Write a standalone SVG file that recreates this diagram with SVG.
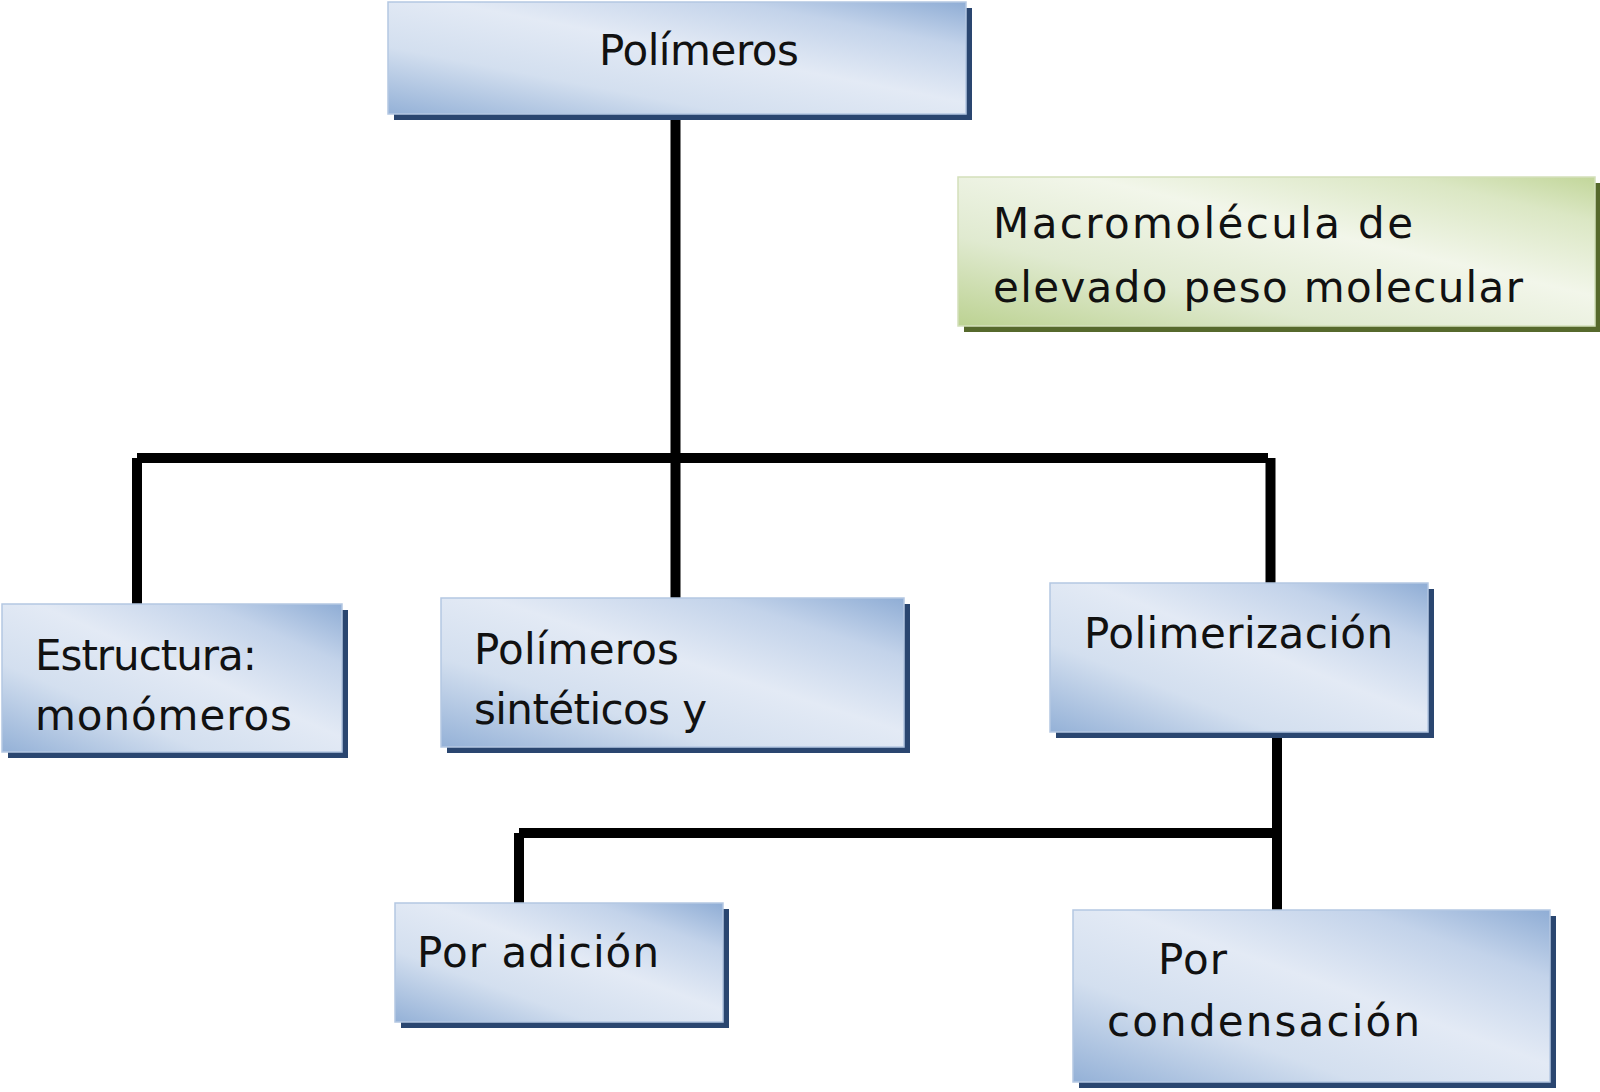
<svg xmlns="http://www.w3.org/2000/svg" width="1600" height="1092" viewBox="0 0 1600 1092">
  <defs>
    <linearGradient id="gBlue" x1="0" y1="1" x2="1" y2="0">
      <stop offset="0" stop-color="#94b1d7"/>
      <stop offset="0.3" stop-color="#d3dfef"/>
      <stop offset="0.55" stop-color="#e3eaf5"/>
      <stop offset="0.8" stop-color="#c3d3ea"/>
      <stop offset="1" stop-color="#8fadd5"/>
    </linearGradient>
    <linearGradient id="gGreen" x1="0" y1="1" x2="1" y2="0">
      <stop offset="0" stop-color="#bcd292"/>
      <stop offset="0.3" stop-color="#e0ead0"/>
      <stop offset="0.6" stop-color="#f2f6ea"/>
      <stop offset="0.85" stop-color="#dbe7c4"/>
      <stop offset="1" stop-color="#c2d69a"/>
    </linearGradient>
  </defs>
  <style>
    .shB { fill: #2a4670; }
    .shG { fill: #56692c; }
    .boxB { fill: url(#gBlue); stroke: #b4c7e2; stroke-width: 1.5; }
    .boxG { fill: url(#gGreen); stroke: #d3e0bb; stroke-width: 1.5; }
    .t { font-family: "DejaVu Sans", "Liberation Sans", sans-serif; font-size: 42px; fill: #111111; }
    .c { stroke: #000000; stroke-width: 10; fill: none; stroke-linecap: butt; }
  </style>
  <rect width="1600" height="1092" fill="#ffffff"/>

  <g id="connectors">
    <line class="c" x1="675.5" y1="114" x2="675.5" y2="599"/>
    <line class="c" x1="137" y1="458" x2="1268" y2="458"/>
    <line class="c" x1="137" y1="458" x2="137" y2="605"/>
    <line class="c" x1="1270.5" y1="458" x2="1270.5" y2="584"/>
    <line class="c" x1="1277" y1="732" x2="1277" y2="911"/>
    <line class="c" x1="519" y1="833" x2="1272" y2="833"/>
    <line class="c" x1="519" y1="833" x2="519" y2="904"/>
  </g>

  <g id="node-polimeros">
    <rect class="shB" x="394" y="8" width="578" height="112"/>
    <rect class="boxB" x="388" y="2" width="578" height="112"/>
    <text class="t" x="599" y="65" textLength="200">Polímeros</text>
  </g>

  <g id="node-macromolecula">
    <rect class="shG" x="964" y="183" width="637" height="149"/>
    <rect class="boxG" x="958" y="177" width="637" height="149"/>
    <text class="t" x="993" y="238" textLength="420">Macromolécula de</text>
    <text class="t" x="993" y="302" textLength="530">elevado peso molecular</text>
  </g>

  <g id="node-estructura">
    <rect class="shB" x="8" y="610" width="340" height="148"/>
    <rect class="boxB" x="2" y="604" width="340" height="148"/>
    <text class="t" x="35" y="670" textLength="222">Estructura:</text>
    <text class="t" x="35" y="730" textLength="257">monómeros</text>
  </g>

  <g id="node-sinteticos">
    <rect class="shB" x="447" y="604" width="463" height="149"/>
    <rect class="boxB" x="441" y="598" width="463" height="149"/>
    <text class="t" x="474" y="664" textLength="205">Polímeros</text>
    <text class="t" x="474" y="724" textLength="233">sintéticos y</text>
  </g>

  <g id="node-polimerizacion">
    <rect class="shB" x="1056" y="589" width="378" height="149"/>
    <rect class="boxB" x="1050" y="583" width="378" height="149"/>
    <text class="t" x="1084" y="648" textLength="309">Polimerización</text>
  </g>

  <g id="node-adicion">
    <rect class="shB" x="401" y="909" width="328" height="119"/>
    <rect class="boxB" x="395" y="903" width="328" height="119"/>
    <text class="t" x="417" y="967" textLength="242">Por adición</text>
  </g>

  <g id="node-condensacion">
    <rect class="shB" x="1079" y="916" width="477" height="172"/>
    <rect class="boxB" x="1073" y="910" width="477" height="172"/>
    <text class="t" x="1158" y="974" textLength="69">Por</text>
    <text class="t" x="1107" y="1036" textLength="313">condensación</text>
  </g>
</svg>
